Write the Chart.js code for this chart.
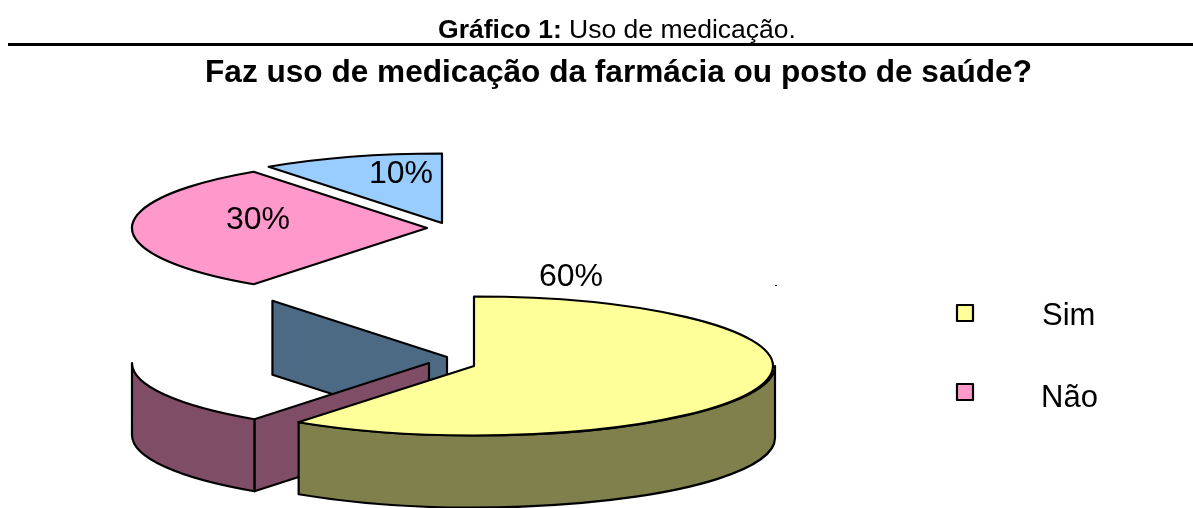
<!DOCTYPE html>
<html lang="pt">
<head>
<meta charset="utf-8">
<title>Uso de medicação</title>
<script src="https://cdn.jsdelivr.net/npm/chart.js@4/dist/chart.umd.js"></script>
<style>
html,body{margin:0;padding:0;background:#fff;}
#wrap{position:relative;width:1193px;height:508px;overflow:hidden;font-family:"Liberation Sans",Arial,sans-serif;color:#000;}
#cap{position:absolute;left:41px;width:1152px;top:14px;text-align:center;font-size:26.5px;line-height:30px;white-space:nowrap;}
#rule{position:absolute;left:8px;right:0;top:43px;height:3px;background:#000;}
canvas{position:absolute;left:0;top:0;}
</style>
</head>
<body>
<div id="wrap">
<canvas id="c" width="1193" height="508"></canvas>
<div id="cap"><b>Gráfico 1:</b> Uso de medicação.</div>
<div id="rule"></div>
</div>
<script>
const chartTitle = 'Faz uso de medicação da farmácia ou posto de saúde?';
const categories = ['Sim', 'Não', ''];
const shares = [60, 30, 10];
const topColors = ['#ffff99', '#ff99cc', '#99ccff'];
const sideColors = ['#80804d', '#804d66', '#4d6a85'];
const FONT = '"Liberation Sans", Arial, sans-serif';

// Layout of the exploded 3D drawing: top face and (displaced) side of each slice
const RY = 69.5;
const geometry = [
  {top:{x:474,y:366,rx:299}, side:{x:475,y:366,rx:300}, depth:72, label:{x:571,y:277}},
  {top:{x:427,y:228,rx:295}, side:{x:429,y:363,rx:297}, depth:72, label:{x:258,y:220}},
  {top:{x:442,y:223,rx:295}, side:{x:447,y:357,rx:297}, depth:74, label:{x:401,y:174}}
];
const legendRows = [{y:313, base:325, x:1042}, {y:392, base:407, x:1041}];

function pt(g, a, dy){ return [g.x + g.rx*Math.cos(a), g.y + RY*Math.sin(a) + (dy||0)]; }

function ellipseArc(ctx, g, a0, a1, dy, ccw){
  ctx.ellipse(g.x, g.y + (dy||0), g.rx, RY, 0, a0, a1, !!ccw);
}

function stroke(ctx, fill){
  ctx.fillStyle = fill;
  ctx.fill();
  ctx.lineWidth = 2.2;
  ctx.lineJoin = 'round';
  ctx.strokeStyle = '#000';
  ctx.stroke();
}

// Radial wall from the slice centre out along angle a
function wall(ctx, g, a, depth, fill){
  const e = pt(g, a);
  ctx.beginPath();
  ctx.moveTo(g.x, g.y);
  ctx.lineTo(e[0], e[1]);
  ctx.lineTo(e[0], e[1] + depth);
  ctx.lineTo(g.x, g.y + depth);
  ctx.closePath();
  stroke(ctx, fill);
}

// Outer curved side, visible only on the lower half of the ellipse
function rim(ctx, g, a0, a1, depth, fill){
  ctx.beginPath();
  ellipseArc(ctx, g, a0, a1, 0);
  ellipseArc(ctx, g, a1, a0, depth, true);
  ctx.closePath();
  stroke(ctx, fill);
}

const pie3d = {
  id: 'pie3d',
  beforeDatasetDraw(chart){
    const ctx = chart.ctx;
    const arcs = chart.getDatasetMeta(0).data;
    const norm = a => { let r = a % (2*Math.PI); if (r < 0) r += 2*Math.PI; return r; };
    const A = arcs.map(a => ({s: norm(a.startAngle), e: norm(a.endAngle)}));
    ctx.save();
    // back walls first
    wall(ctx, geometry[2].side, A[2].s, geometry[2].depth, sideColors[2]);
    wall(ctx, geometry[1].side, A[1].s, geometry[1].depth, sideColors[1]);
    rim(ctx, geometry[1].side, A[1].s, Math.PI, geometry[1].depth, sideColors[1]);
    rim(ctx, geometry[0].side, 0, A[0].e, geometry[0].depth, sideColors[0]);
    // top faces
    [1, 2, 0].forEach(i => {
      const g = geometry[i].top;
      ctx.beginPath();
      ctx.moveTo(g.x, g.y);
      ellipseArc(ctx, g, arcs[i].startAngle, arcs[i].endAngle, 0);
      ctx.closePath();
      stroke(ctx, topColors[i]);
    });
    // percentage labels
    const total = shares.reduce((a, b) => a + b, 0);
    ctx.fillStyle = '#000';
    ctx.font = '32px ' + FONT;
    ctx.textAlign = 'center';
    ctx.textBaseline = 'middle';
    shares.forEach((v, i) => {
      ctx.fillText(Math.round(v / total * 100) + '%', geometry[i].label.x, geometry[i].label.y);
    });
    // legend
    ctx.font = '31px ' + FONT;
    ctx.textAlign = 'left';
    ctx.textBaseline = 'alphabetic';
    legendRows.forEach((r, i) => {
      ctx.beginPath();
      ctx.rect(957, r.y - 8, 16, 16);
      stroke(ctx, topColors[i]);
      ctx.fillStyle = '#000';
      ctx.fillText(categories[i], r.x, r.base);
    });
    ctx.fillRect(775, 285, 2, 1);
    ctx.restore();
    return false;
  }
};

new Chart(document.getElementById('c'), {
  type: 'pie',
  data: {
    labels: categories,
    datasets: [{ data: shares, backgroundColor: topColors, borderColor: '#000', borderWidth: 2 }]
  },
  options: {
    responsive: false,
    animation: false,
    layout: { padding: { left: 44, top: 54, right: 0, bottom: 0 } },
    plugins: {
      legend: { display: false },
      tooltip: { enabled: false },
      title: {
        display: true,
        text: chartTitle,
        color: '#000',
        font: { family: FONT, size: 31.6, weight: 'bold' },
        padding: { top: 0, bottom: 0 }
      }
    }
  },
  plugins: [pie3d]
});
</script>
</body>
</html>
